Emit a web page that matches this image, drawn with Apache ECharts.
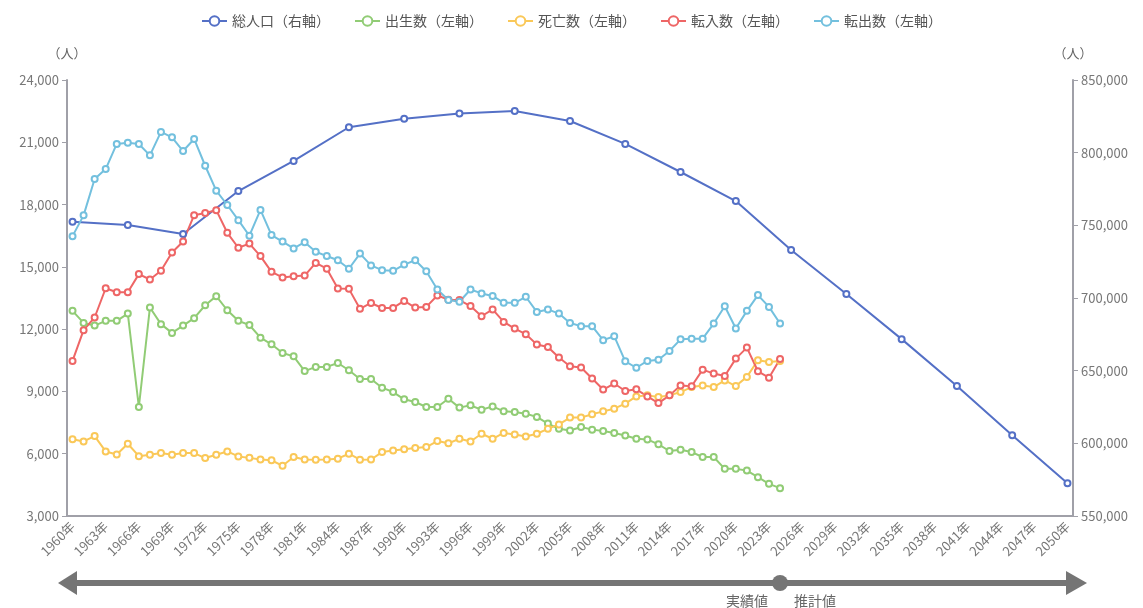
<!DOCTYPE html>
<html>
<head>
<meta charset="utf-8">
<script src="https://cdn.jsdelivr.net/npm/echarts@6/dist/echarts.min.js"></script>
<style>
  html, body { margin: 0; padding: 0; background: #fff; }
  #chart { width: 1143px; height: 608px; }
</style>
</head>
<body>
<div id="chart"></div>
<script>
// years shown on the category axis
var startYear = 1960
var endYear = 2050
var years = []
for (var y = startYear; y <= endYear; y++) {
  years.push(y + '年')
}

// 総人口 (right axis), every 5 years incl. projection
var popYears = ['1960年', '1965年', '1970年', '1975年', '1980年', '1985年', '1990年', '1995年', '2000年', '2005年', '2010年', '2015年', '2020年', '2025年', '2030年', '2035年', '2040年', '2045年', '2050年']
var popValues = [752500, 750200, 744000, 773600, 794300, 817500, 823400, 826900, 828700, 821800, 806000, 786700, 766700, 733000, 702700, 671700, 639400, 605600, 572500]

// yearly actuals 1960-2024 (left axis)
var births = [
  12880, 12300, 12170, 12400, 12400, 12750, 8250, 13040, 12240, 11820,
  12170, 12530, 13150, 13590, 12910, 12400, 12200, 11590, 11270, 10850,
  10690, 9980, 10180, 10180, 10370, 10020, 9600, 9600, 9180, 8970,
  8620, 8490, 8250, 8250, 8650, 8220, 8330, 8120, 8280, 8040,
  8010, 7930, 7770, 7450, 7200, 7120, 7290, 7160, 7090, 7000,
  6880, 6720, 6690, 6450, 6130, 6190, 6080, 5840, 5840, 5270,
  5270, 5190, 4870, 4550, 4340
]
var deaths = [
  6700, 6590, 6850, 6110, 5960, 6480, 5880, 5950, 6030, 5950,
  6030, 6030, 5790, 5950, 6110, 5870, 5800, 5720, 5680, 5420,
  5840, 5720, 5710, 5720, 5760, 6000, 5710, 5720, 6080, 6160,
  6220, 6270, 6320, 6610, 6500, 6720, 6590, 6960, 6720, 7000,
  6930, 6830, 6960, 7200, 7410, 7740, 7740, 7900, 8040, 8170,
  8410, 8760, 8810, 8730, 8810, 8970, 9210, 9290, 9210, 9530,
  9260, 9700, 10500, 10420, 10470
]
var movedIn = [
  10470, 11950, 12560, 13970, 13780, 13780, 14650, 14390, 14810, 15690,
  16220, 17490, 17590, 17730, 16640, 15920, 16120, 15520, 14760, 14490,
  14550, 14580, 15190, 14910, 13960, 13940, 12980, 13260, 13020, 13020,
  13360, 13040, 13070, 13620, 13420, 13400, 13110, 12620, 12950, 12350,
  12030, 11760, 11260, 11140, 10630, 10210, 10150, 9620, 9090, 9380,
  9020, 9100, 8760, 8440, 8810, 9290, 9250, 10050, 9860, 9740,
  10580, 11110, 9970, 9660, 10560
]
var movedOut = [
  16480, 17480, 19230, 19710, 20920, 20980, 20920, 20370, 21500, 21240,
  20580, 21160, 19870, 18670, 17980, 17250, 16500, 17740, 16530, 16220,
  15890, 16190, 15730, 15520, 15320, 14910, 15640, 15070, 14840, 14810,
  15110, 15320, 14790, 13910, 13400, 13320, 13910, 13720, 13600, 13270,
  13270, 13560, 12830, 12950, 12750, 12300, 12140, 12140, 11470, 11660,
  10450, 10140, 10470, 10530, 10950, 11510, 11540, 11540, 12270, 13100,
  12030, 12880, 13640, 13070, 12270
]

var colors = ['#5470c6', '#91cc75', '#fac858', '#ee6666', '#73c0de']
var names = ['総人口（右軸）', '出生数（左軸）', '死亡数（左軸）', '転入数（左軸）', '転出数（左軸）']
var lastActual = '2024年'
var font = "'Noto Sans CJK JP', 'Noto Sans', sans-serif"

var chart = echarts.init(document.getElementById('chart'))

function lineSeries(i, data, yAxisIndex) {
  return {
    name: names[i],
    type: 'line',
    yAxisIndex: yAxisIndex,
    data: data,
    connectNulls: true,
    symbol: 'emptyCircle',
    symbolSize: 6,
    showSymbol: true,
    color: colors[i],
    lineStyle: { width: 2, color: colors[i] },
    itemStyle: { color: colors[i], borderWidth: 2 },
    animation: false
  }
}

var popData = popYears.map(function(c, k) { return [c, popValues[k]] })

var axisStyle = {
  axisLine: { show: true, lineStyle: { color: '#a0a0a8', width: 2 } },
  axisTick: { show: true, length: 5, lineStyle: { color: '#a0a0a8' } },
  splitLine: { show: false }
}

chart.setOption({
  textStyle: { fontFamily: font },
  legend: {
    top: 9,
    left: 'center',
    itemGap: 24,
    itemWidth: 25,
    itemHeight: 12,
    textStyle: { fontSize: 14, color: '#555', fontFamily: font },
    data: names
  },
  grid: { left: 67, right: 70, top: 80, bottom: 92, containLabel: false },
  xAxis: {
    type: 'category',
    data: years,
    boundaryGap: true,
    axisLine: { lineStyle: { color: '#a0a0a8', width: 2 } },
    axisTick: { interval: 0, length: 5, lineStyle: { color: '#a0a0a8' } },
    axisLabel: { interval: 2, rotate: 45, fontSize: 13, color: '#777', margin: 8, fontFamily: font }
  },
  yAxis: [
    Object.assign({
      type: 'value',
      min: 3000,
      max: 24000,
      interval: 3000,
      name: '（人）',
      nameLocation: 'end',
      nameGap: 20,
      nameTextStyle: { color: '#666', fontSize: 13, align: 'center', fontFamily: font },
      axisLabel: {
        fontSize: 13, color: '#777', fontFamily: font,
        formatter: function(v) { return echarts.format.addCommas(v) }
      }
    }, axisStyle),
    Object.assign({
      type: 'value',
      position: 'right',
      min: 550000,
      max: 850000,
      interval: 50000,
      name: '（人）',
      nameLocation: 'end',
      nameGap: 20,
      nameTextStyle: { color: '#666', fontSize: 13, align: 'center', fontFamily: font },
      axisLabel: {
        fontSize: 13, color: '#777', fontFamily: font,
        formatter: function(v) { return echarts.format.addCommas(v) }
      }
    }, axisStyle)
  ],
  series: [
    lineSeries(0, popData, 1),
    lineSeries(1, births, 0),
    lineSeries(2, deaths, 0),
    lineSeries(3, movedIn, 0),
    lineSeries(4, movedOut, 0)
  ]
})

// timeline arrow under the axis: actual values | projection
var arrowY = 583
var splitX = chart.convertToPixel({ xAxisIndex: 0 }, lastActual)
var arrowColor = '#757575'
chart.setOption({
  graphic: [
    { type: 'line', shape: { x1: 72, y1: arrowY, x2: 1070, y2: arrowY }, style: { stroke: arrowColor, lineWidth: 6 } },
    { type: 'polygon', shape: { points: [[58, arrowY], [77, arrowY - 12], [77, arrowY + 12]] }, style: { fill: arrowColor } },
    { type: 'polygon', shape: { points: [[1087, arrowY], [1066, arrowY - 12], [1066, arrowY + 12]] }, style: { fill: arrowColor } },
    { type: 'circle', shape: { cx: splitX, cy: arrowY, r: 8 }, style: { fill: arrowColor } },
    { type: 'text', x: splitX - 12, y: 601, style: { text: '実績値', fill: '#666', fontSize: 14, fontFamily: font, align: 'right', verticalAlign: 'middle' } },
    { type: 'text', x: splitX + 14, y: 601, style: { text: '推計値', fill: '#666', fontSize: 14, fontFamily: font, align: 'left', verticalAlign: 'middle' } }
  ]
})
</script>
</body>
</html>
